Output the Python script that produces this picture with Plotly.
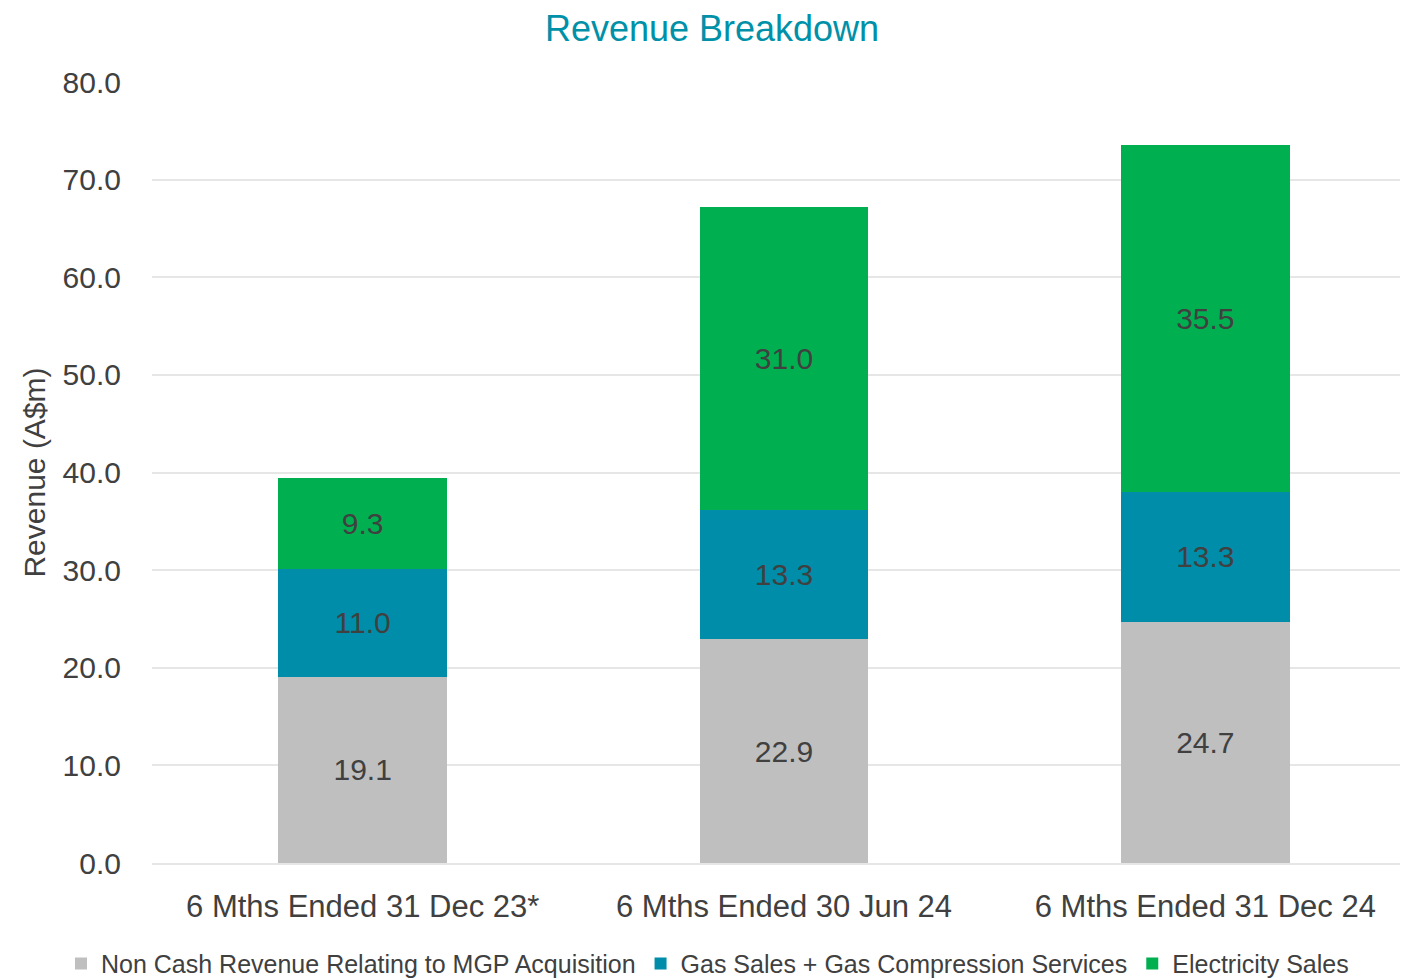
import plotly.graph_objects as go

# data
periods = ["6 Mths Ended 31 Dec 23*", "6 Mths Ended 30 Jun 24", "6 Mths Ended 31 Dec 24"]
non_cash = [19.1, 22.9, 24.7]
gas_sales = [11.0, 13.3, 13.3]
electricity = [9.3, 31.0, 35.5]

series = [
    ("Non Cash Revenue Relating to MGP Acquisition", non_cash, "#BFBFBF"),
    ("Gas Sales + Gas Compression Services", gas_sales, "#008DA9"),
    ("Electricity Sales", electricity, "#00B050"),
]

FONT = "Liberation Sans, Arial, sans-serif"
TXT = "#404040"

fig = go.Figure()
for name, vals, col in series:
    fig.add_trace(go.Bar(
        x=periods, y=vals, name=name,
        marker=dict(color=col, line=dict(width=0)),
        text=[f"{v:.1f}" for v in vals],
        textposition="inside", insidetextanchor="middle",
        textfont=dict(family=FONT, size=30, color=TXT),
        width=0.4,
    ))

# page body has an 8px margin, so margins are shifted by that
fig.update_layout(
    barmode="stack",
    width=1408, height=979,
    margin=dict(l=144, r=0, t=74, b=124),
    plot_bgcolor="white", paper_bgcolor="white",
    font=dict(family=FONT, color=TXT),
    title=dict(text="Revenue Breakdown", x=0.5, xanchor="center",
               y=1.0, yanchor="top", pad=dict(t=8),
               font=dict(family=FONT, size=36, color="#0091A8")),
    yaxis=dict(range=[0, 80], dtick=10, tickformat=".1f",
               gridcolor="#E6E6E6", gridwidth=2, zeroline=False,
               showline=False, ticks="", ticklabelstandoff=30,
               tickfont=dict(size=30, color=TXT),
               title=dict(text="Revenue (A$m)", standoff=8,
                          font=dict(size=30, color=TXT))),
    xaxis=dict(showline=True, linecolor="#E6E6E6", linewidth=2,
               ticks="", ticklabelstandoff=15,
               tickfont=dict(size=31, color=TXT)),
    legend=dict(orientation="h", x=-0.072, xanchor="left",
                y=-0.129, yanchor="middle",
                font=dict(size=25, color=TXT), itemwidth=30,
                traceorder="normal"),
    showlegend=True,
)

fig.write_html("out.html")
